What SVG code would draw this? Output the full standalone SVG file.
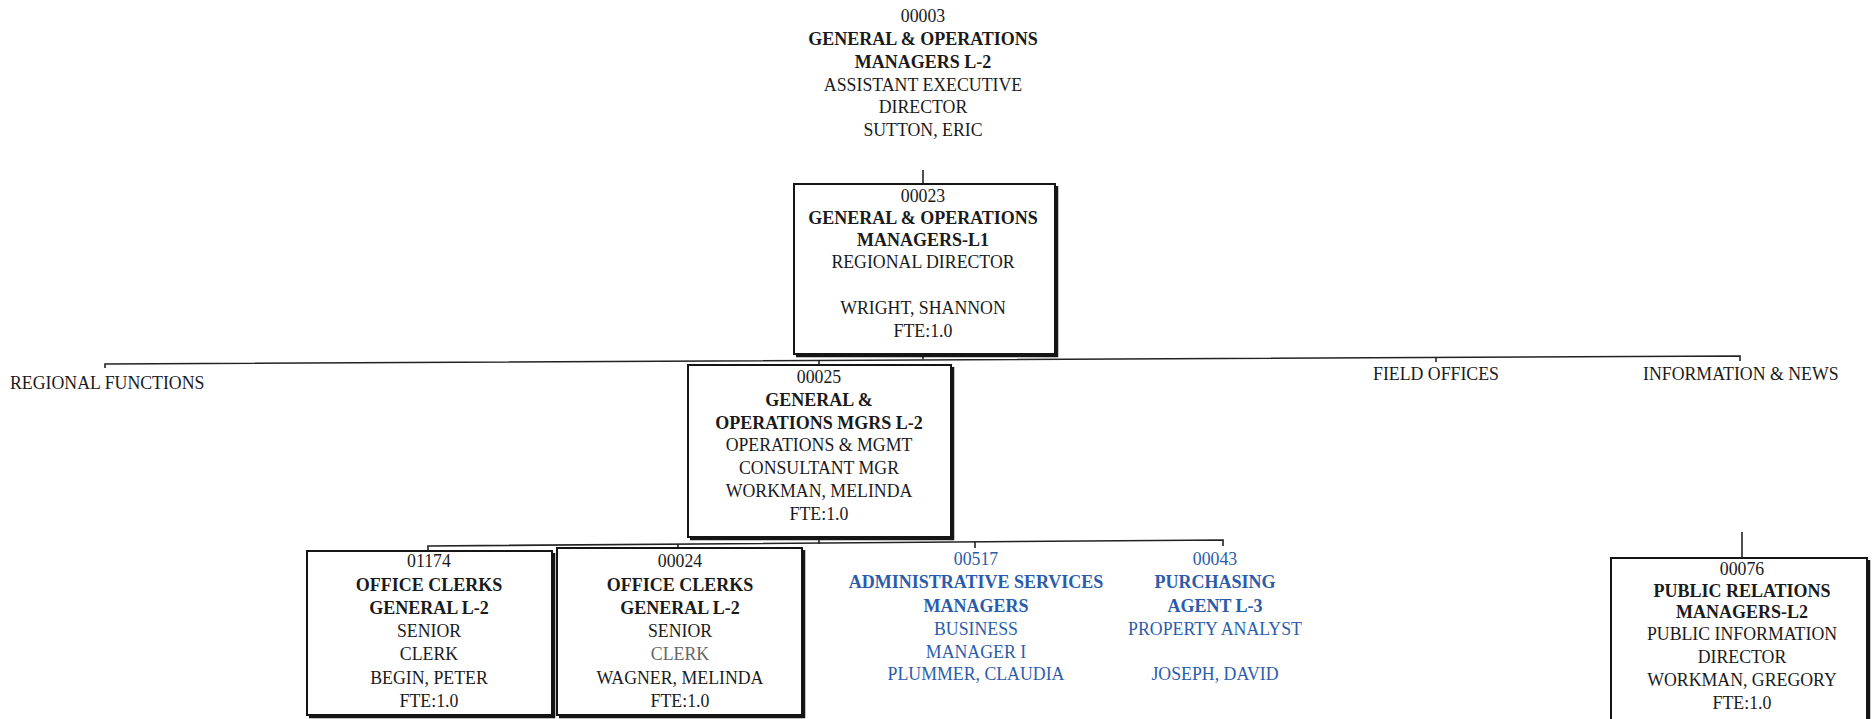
<svg xmlns="http://www.w3.org/2000/svg" width="1875" height="719" viewBox="0 0 1875 719">
  <style>
    text { font-family: "Liberation Serif", "Times New Roman", serif; font-size: 17.8px; fill: #1a1a1a; text-anchor: middle; }
    .b { font-weight: bold; font-size: 18px; }
    .blue { fill: #2b5cab; }
    .grey { fill: #666666; }
    .lbl { text-anchor: start; }
    .box { fill: #ffffff; stroke: #151515; stroke-width: 2; }
    .shadow { fill: none; stroke: #151515; stroke-width: 2.5; }
    .wire { fill: none; stroke: #222222; stroke-width: 1.6; }
  </style>
  <rect width="1875" height="719" fill="#ffffff"/>

  <!-- connectors -->
  <g id="connectors">
    <line class="wire" x1="923" y1="170" x2="923" y2="184"/>
    <line class="wire" x1="923" y1="355" x2="923" y2="359"/>
    <polyline class="wire" points="105,368 105,364 1740,356 1740,361"/>
    <line class="wire" x1="1436" y1="357" x2="1436" y2="362"/>
    <line class="wire" x1="819" y1="360" x2="819" y2="365"/>
    <line class="wire" x1="819" y1="538" x2="819" y2="544"/>
    <polyline class="wire" points="428,551 428,546 1223,540 1223,546"/>
    <line class="wire" x1="678" y1="544" x2="678" y2="548"/>
    <line class="wire" x1="975" y1="542" x2="975" y2="548"/>
    <line class="wire" x1="1742" y1="532" x2="1742" y2="558"/>
  </g>

  <!-- section labels on the main bus -->
  <g id="labels">
    <text class="lbl" x="10" y="389">REGIONAL FUNCTIONS</text>
    <text class="lbl" x="1373" y="380">FIELD OFFICES</text>
    <text class="lbl" x="1643" y="380">INFORMATION &amp; NEWS</text>
  </g>

  <!-- 00003 -->
  <g id="n00003">
    <text x="923" y="22">00003</text>
    <text class="b" x="923" y="45">GENERAL &amp; OPERATIONS</text>
    <text class="b" x="923" y="68">MANAGERS L-2</text>
    <text x="923" y="91">ASSISTANT EXECUTIVE</text>
    <text x="923" y="113">DIRECTOR</text>
    <text x="923" y="136">SUTTON, ERIC</text>
  </g>

  <!-- 00023 -->
  <g id="n00023">
    <rect class="box" x="794" y="184" width="261" height="170"/>
    <polyline class="shadow" points="1057,186 1057,356 796,356"/>
    <text x="923" y="202">00023</text>
    <text class="b" x="923" y="224">GENERAL &amp; OPERATIONS</text>
    <text class="b" x="923" y="246">MANAGERS-L1</text>
    <text x="923" y="268">REGIONAL DIRECTOR</text>
    <text x="923" y="314">WRIGHT, SHANNON</text>
    <text x="923" y="337">FTE:1.0</text>
  </g>

  <!-- 00025 -->
  <g id="n00025">
    <rect class="box" x="688" y="365" width="263" height="172"/>
    <polyline class="shadow" points="953,367 953,539 690,539"/>
    <text x="819" y="383">00025</text>
    <text class="b" x="819" y="406">GENERAL &amp;</text>
    <text class="b" x="819" y="429">OPERATIONS MGRS L-2</text>
    <text x="819" y="451">OPERATIONS &amp; MGMT</text>
    <text x="819" y="474">CONSULTANT MGR</text>
    <text x="819" y="497">WORKMAN, MELINDA</text>
    <text x="819" y="520">FTE:1.0</text>
  </g>

  <!-- 01174 -->
  <g id="n01174">
    <rect class="box" x="307" y="551" width="245" height="164"/>
    <polyline class="shadow" points="554,553 554,717 309,717"/>
    <text x="429" y="567">01174</text>
    <text class="b" x="429" y="591">OFFICE CLERKS</text>
    <text class="b" x="429" y="614">GENERAL L-2</text>
    <text x="429" y="637">SENIOR</text>
    <text x="429" y="660">CLERK</text>
    <text x="429" y="684">BEGIN, PETER</text>
    <text x="429" y="707">FTE:1.0</text>
  </g>

  <!-- 00024 -->
  <g id="n00024">
    <rect class="box" x="557" y="548" width="245" height="167"/>
    <polyline class="shadow" points="804,550 804,717 559,717"/>
    <text x="680" y="567">00024</text>
    <text class="b" x="680" y="591">OFFICE CLERKS</text>
    <text class="b" x="680" y="614">GENERAL L-2</text>
    <text x="680" y="637">SENIOR</text>
    <text class="grey" x="680" y="660">CLERK</text>
    <text x="680" y="684">WAGNER, MELINDA</text>
    <text x="680" y="707">FTE:1.0</text>
  </g>

  <!-- 00517 -->
  <g id="n00517">
    <text class="blue" x="976" y="565">00517</text>
    <text class="b blue" x="976" y="588">ADMINISTRATIVE SERVICES</text>
    <text class="b blue" x="976" y="612">MANAGERS</text>
    <text class="blue" x="976" y="635">BUSINESS</text>
    <text class="blue" x="976" y="658">MANAGER I</text>
    <text class="blue" x="976" y="680">PLUMMER, CLAUDIA</text>
  </g>

  <!-- 00043 -->
  <g id="n00043">
    <text class="blue" x="1215" y="565">00043</text>
    <text class="b blue" x="1215" y="588">PURCHASING</text>
    <text class="b blue" x="1215" y="612">AGENT L-3</text>
    <text class="blue" x="1215" y="635">PROPERTY ANALYST</text>
    <text class="blue" x="1215" y="680">JOSEPH, DAVID</text>
  </g>

  <!-- 00076 -->
  <g id="n00076">
    <rect class="box" x="1611" y="558" width="256" height="170"/>
    <polyline class="shadow" points="1869,560 1869,730"/>
    <text x="1742" y="575">00076</text>
    <text class="b" x="1742" y="597">PUBLIC RELATIONS</text>
    <text class="b" x="1742" y="618">MANAGERS-L2</text>
    <text x="1742" y="640">PUBLIC INFORMATION</text>
    <text x="1742" y="663">DIRECTOR</text>
    <text x="1742" y="686">WORKMAN, GREGORY</text>
    <text x="1742" y="709">FTE:1.0</text>
  </g>
</svg>
